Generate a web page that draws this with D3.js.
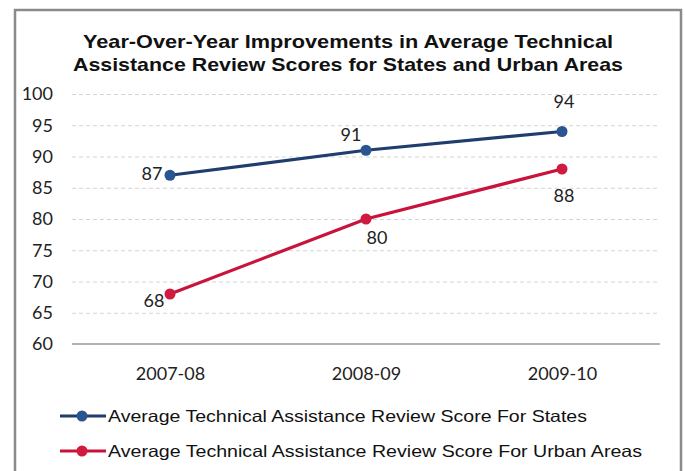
<!DOCTYPE html>
<html>
<head>
<meta charset="utf-8">
<script src="https://cdn.jsdelivr.net/npm/d3@7"></script>
<style>
  body { margin: 0; background: #fff; }
  svg { display: block; }
</style>
</head>
<body>
<svg id="chart" width="685" height="471"></svg>
<script>
const years = ["2007-08", "2008-09", "2009-10"];
const statesScores = [87, 91, 94];
const urbanScores = [68, 80, 88];
const yTicks = [60, 65, 70, 75, 80, 85, 90, 95, 100];
const seriesNames = [
    "Average Technical Assistance Review Score For States",
    "Average Technical Assistance Review Score For Urban Areas"
];
const titleLines = [
    "Year-Over-Year Improvements in Average Technical",
    "Assistance Review Scores for States and Urban Areas"
];
const seriesColors = ["#1f3d6d", "#c8143c"];
const markerColors = ["#2a5590", "#d01a40"];
// where each value label sits relative to its point
const labelOffsets = [
    [[-18, 5], [-15, -9], [2, -24]],
    [[-16, 13], [11, 25], [2, 33]]
];

function drawChart() {
    const svg = d3.select("#chart");
    const width = 685, height = 471;
    const plot = {left: 72, right: 660, top: 94, bottom: 344};

    svg.append("rect")
        .attr("width", width)
        .attr("height", height)
        .attr("fill", "#fff");

    // outer frame
    svg.append("rect")
        .attr("x", 15)
        .attr("y", 10)
        .attr("width", 666)
        .attr("height", 480)
        .attr("fill", "none")
        .attr("stroke", "#8a8a8a")
        .attr("stroke-width", 2.5);

    // the picture is a bit stretched sideways, so widths are forced
    const titleWidths = [530, 550];
    svg.append("g")
        .selectAll("text")
        .data(titleLines)
        .join("text")
        .attr("x", 348)
        .attr("y", (d, i) => 48 + i * 23)
        .attr("text-anchor", "middle")
        .attr("font-family", "Liberation Sans, Arial, sans-serif")
        .attr("font-weight", "bold")
        .attr("font-size", "18.5px")
        .attr("textLength", (d, i) => titleWidths[i])
        .attr("lengthAdjust", "spacingAndGlyphs")
        .attr("fill", "#111")
        .text(d => d);

    const x = d3.scalePoint()
        .domain(years)
        .range([plot.left, plot.right])
        .padding(0.5);

    const y = d3.scaleLinear()
        .domain([60, 100])
        .range([plot.bottom, plot.top]);

    // grid
    svg.append("g")
        .attr("transform", `translate(${plot.left},0)`)
        .call(d3.axisLeft(y).tickValues(yTicks.slice(1)).tickSize(-(plot.right - plot.left)).tickFormat(""))
        .call(g => g.select(".domain").remove())
        .selectAll("line")
        .attr("stroke", "#d4d4d4")
        .attr("stroke-width", 1)
        .attr("stroke-dasharray", "4,3");

    // y labels
    svg.append("g")
        .attr("transform", `translate(${plot.left},0)`)
        .call(d3.axisLeft(y).tickValues(yTicks).tickSize(0).tickPadding(19))
        .call(g => g.select(".domain").remove())
        .selectAll("text")
        .attr("font-family", "Lato, Calibri, sans-serif")
        .attr("font-size", "18px")
        .attr("fill", "#222");

    // x axis
    svg.append("g")
        .attr("transform", `translate(0,${plot.bottom})`)
        .call(d3.axisBottom(x).tickSize(0).tickPadding(23))
        .call(g => g.select(".domain")
            .attr("d", `M${plot.left},0H${plot.right}`)
            .attr("stroke", "#9a9a9a")
            .attr("stroke-width", 1.5))
        .selectAll("text")
        .attr("font-family", "Lato, Calibri, sans-serif")
        .attr("font-size", "18px")
        .attr("fill", "#222");

    const line = d3.line()
        .x((d, i) => x(years[i]))
        .y(d => y(d));

    [statesScores, urbanScores].forEach((vals, s) => {
        const g = svg.append("g");
        g.append("path")
            .attr("d", line(vals))
            .attr("fill", "none")
            .attr("stroke", seriesColors[s])
            .attr("stroke-width", 3.2);

        g.selectAll("circle")
            .data(vals)
            .join("circle")
            .attr("cx", (d, i) => x(years[i]))
            .attr("cy", d => y(d))
            .attr("r", 5.5)
            .attr("fill", markerColors[s]);

        g.selectAll("text")
            .data(vals)
            .join("text")
            .attr("x", (d, i) => x(years[i]) + labelOffsets[s][i][0])
            .attr("y", (d, i) => y(d) + labelOffsets[s][i][1])
            .attr("text-anchor", "middle")
            .attr("font-family", "Lato, Calibri, sans-serif")
            .attr("font-size", "18px")
            .attr("fill", "#222")
            .text(d => d);
    });

    // legend
    const legendWidths = [479, 534];
    const legend = svg.append("g")
        .selectAll("g")
        .data(seriesNames)
        .join("g")
        .attr("transform", (d, i) => `translate(0,${416 + i * 35})`);

    legend.append("line")
        .attr("x1", 60)
        .attr("x2", 106)
        .attr("stroke", (d, i) => seriesColors[i])
        .attr("stroke-width", 3.2);

    legend.append("circle")
        .attr("cx", 82)
        .attr("r", 5.5)
        .attr("fill", (d, i) => markerColors[i]);

    legend.append("text")
        .attr("x", 108)
        .attr("dy", "0.35em")
        .attr("font-family", "Liberation Sans, Arial, sans-serif")
        .attr("font-size", "16.5px")
        .attr("textLength", (d, i) => legendWidths[i])
        .attr("lengthAdjust", "spacingAndGlyphs")
        .attr("fill", "#111")
        .text(d => d);
}

drawChart();
</script>
</body>
</html>
